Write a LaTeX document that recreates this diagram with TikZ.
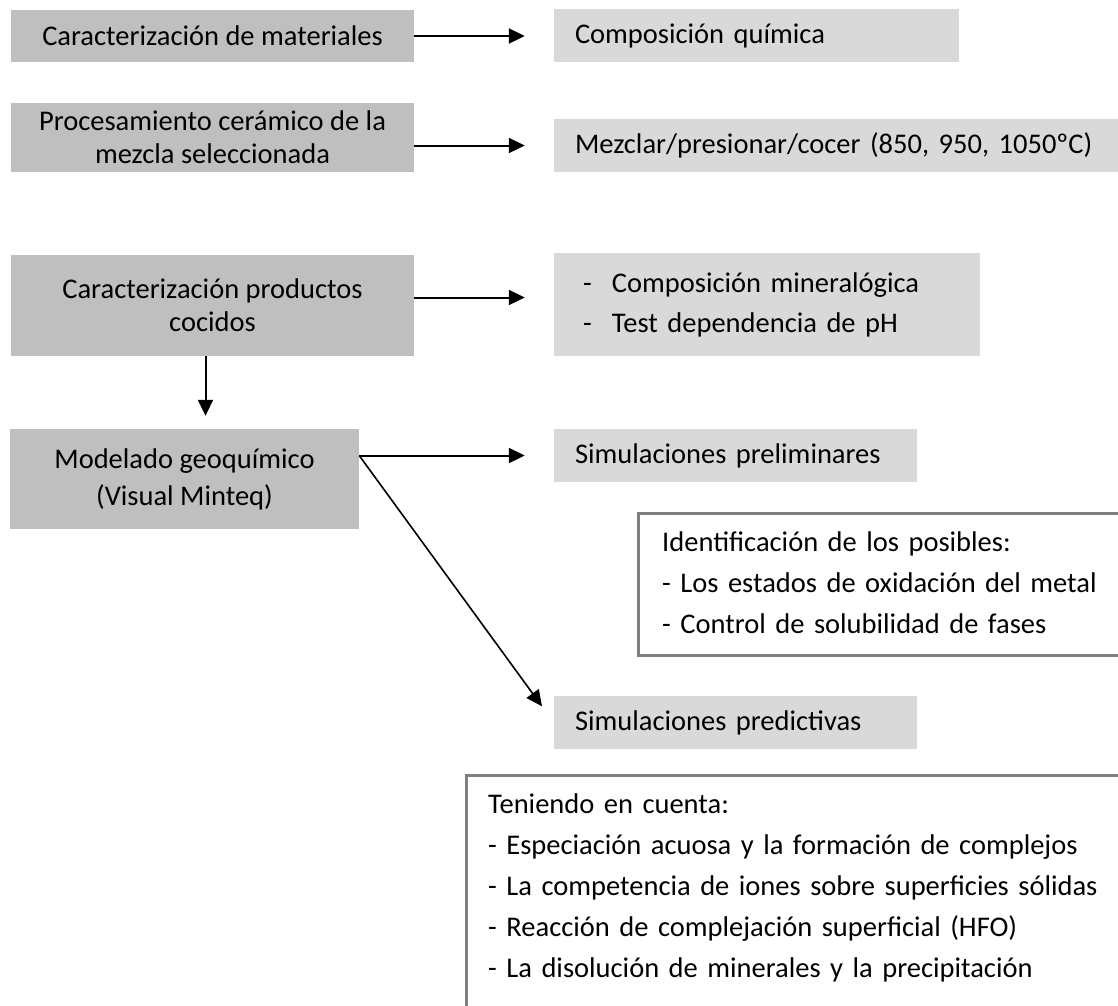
\documentclass[tikz,border=0pt]{standalone}
\usepackage{fontspec}
\setmainfont{Carlito}
\usetikzlibrary{positioning,arrows.meta}
\definecolor{grisoscuro}{HTML}{BFBFBF}
\definecolor{grisclaro}{HTML}{D9D9D9}
\definecolor{grisborde}{HTML}{808080}

\begin{document}
\begin{tikzpicture}[
  x=1pt, y=-1pt,
  etapa/.style={fill=grisoscuro,align=center,inner sep=0pt,minimum width=403pt},
  resultado/.style={fill=grisclaro,align=left,inner xsep=21pt,inner ysep=0pt,minimum height=53pt},
  nota/.style={draw=grisborde,line width=3pt,inner sep=0pt,outer sep=0pt},
  notatexto/.style={anchor=north west,align=left,inner sep=0pt,font=\fontsize{28.5}{41}\selectfont},
  flecha/.style={-{Triangle[length=16pt,width=15pt]},line width=2pt},
  font=\fontsize{28.5}{33}\selectfont
]
\useasboundingbox (0,0) rectangle (1118,1005);

% etapas
\node[etapa,minimum height=52pt] (A) at (212.5,36) {Caracterización de materiales};
\node[etapa,minimum height=69pt] (B) at (212.5,137.5) {Procesamiento cerámico de la\\mezcla seleccionada};
\node[etapa,minimum height=101pt] (C) at (212.5,305.5) {Caracterización productos\\cocidos};
\node[etapa,minimum width=349pt,minimum height=100pt,font=\fontsize{28.5}{37}\selectfont] (D) at (184.5,479) {Modelado geoquímico\\(Visual Minteq)};

% resultados
\node[resultado,text width=363pt] (R1) at (756.5,35.5) {Composición química};
\node[resultado,text width=534pt] (R2) at (842,145.5) {Mezclar/presionar/cocer (850, 950, 1050ºC)};
\node[resultado,inner xsep=29pt,text width=368pt,minimum height=103pt,font=\fontsize{28.5}{40}\selectfont] (R3) at (767,304.5) {\makebox[29pt][l]{-}Composición mineralógica\\\makebox[29pt][l]{-}Test dependencia de pH};
\node[resultado,text width=321pt] (R4) at (735.5,455.5) {Simulaciones preliminares};
\node[resultado,text width=321pt] (R5) at (735.5,722.5) {Simulaciones predictivas};

% notas
\node[nota,minimum width=502pt,minimum height=142pt] (N1) at (889,584) {};
\node[notatexto,text width=450pt] (N1t) at ([shift={(24,18)}]N1.north west) {Identificación de los posibles:\\- Los estados de oxidación del metal\\- Control de solubilidad de fases};
\node[nota,minimum width=674pt,minimum height=265pt] (N2) at (803,907.5) {};
\node[notatexto,text width=640pt] (N2t) at ([shift={(22,18.5)}]N2.north west) {Teniendo en cuenta:\\- Especiación acuosa y la formación de complejos\\- La competencia de iones sobre superficies sólidas\\- Reacción de complejación superficial (HFO)\\- La disolución de minerales y la precipitación};

% conectores
\coordinate (bif) at (D.east |- R4.west);
\path (A.east) edge[flecha,shorten >=29pt] (A.east -| R1.west)
(B.east |- R2.west) edge[flecha,shorten >=29pt] (R2.west)
([yshift=8pt]C.east) edge[flecha,shorten >=29pt] ([yshift=8pt]C.east -| R3.west)
([xshift=-7pt]C.south) edge[flecha,shorten >=13pt] ([xshift=-7pt]C.south |- D.north)
(bif) edge[flecha,shorten >=29pt] (R4.west)
(bif) edge[flecha,line width=1.6pt,shorten >=20pt] (R5.west);
\end{tikzpicture}
\end{document}
